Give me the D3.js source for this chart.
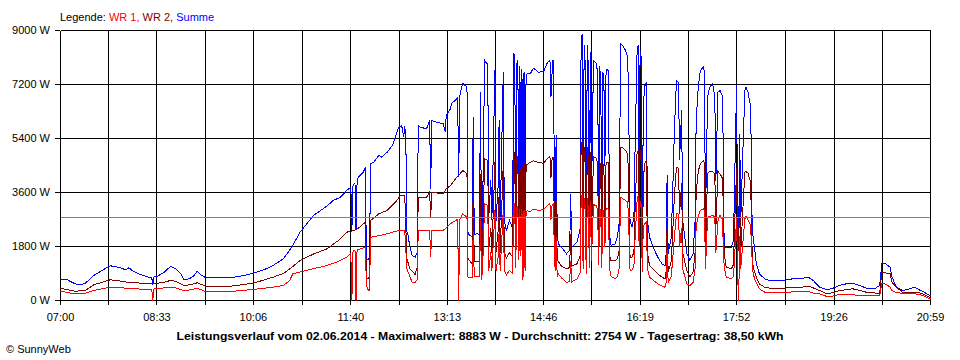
<!DOCTYPE html>
<html><head><meta charset="utf-8">
<script src="https://cdn.jsdelivr.net/npm/d3@7"></script>
<style>
body{margin:0;background:#fff;}
svg{display:block;font-family:"Liberation Sans",Arial,sans-serif;}
</style></head><body>
<svg id="c" width="960" height="360"></svg>
<script>
// ---- data (minutes since 07:00, watts) ----
const xTickLabels = ["07:00","08:33","10:06","11:40","13:13","14:46","16:19","17:52","19:26","20:59"];
const yTickValues = [0,1800,3600,5400,7200,9000];
const averageW = 2754;
const seriesNames = ["WR 1","WR 2","Summe"];
const legendPrefix = "Legende: ";
const titleText = "Leistungsverlauf vom 02.06.2014 - Maximalwert: 8883 W - Durchschnitt: 2754 W - Tagesertrag: 38,50 kWh";
const footerText = "© SunnyWeb";

const summe = [[0,710],[6,700],[14,557],[19,523],[24,577],[32,833],[40,1000],[48,1157],[56,1110],[63,1023],[66,1090],[69,1000],[77,867],[85,777],[88,760],[89,520],[90,780],[93,800],[100,943],[106,1133],[111,1067],[116,890],[119,690],[124,723],[128,800],[132,977],[134,890],[140,757],[164,757],[167,777],[177,833],[186,910],[196,1023],[205,1167],[215,1390],[223,1777],[231,2277],[244,2833],[257,3150],[263,3333],[270,3443],[276,3667],[280,3777],[281,2330],[282,3800],[283,3890],[284,3900],[285,2350],[286,3950],[287,4110],[292,4277],[294,4443],[295,1330],[297,1390],[298,1330],[299,4557],[302,4610],[307,4833],[310,4777],[315,4943],[320,5167],[323,5443],[326,5777],[329,5833],[331,5450],[332,5800],[333,5500],[334,2300],[335,2200],[337,1777],[339,1500],[342,1443],[344,1600],[345,5833],[347,5777],[353,5723],[356,6000],[357,3723],[358,6000],[363,5943],[369,5890],[371,5610],[372,6167],[376,6390],[377,6557],[382,6723],[383,6750],[384,4110],[385,6800],[386,7000],[388,7243],[392,7110],[393,2223],[397,2110],[398,6110],[399,2200],[402,2233],[404,2200],[405,6943],[406,2000],[407,2777],[409,8000],[411,7900],[412,7890],[413,2777],[415,4000],[416,2700],[419,7690],[420,2667],[422,3777],[423,6000],[424,2667],[427,7610],[428,2667],[430,2333],[433,2667],[436,2400],[437,8223],[438,8170],[439,2900],[440,7900],[441,8000],[442,3500],[443,7800],[444,4000],[445,7700],[446,2400],[447,7600],[448,2600],[449,7500],[450,7560],[453,7557],[456,7743],[461,7610],[466,7643],[469,7890],[472,8023],[473,6800],[474,7557],[475,8023],[477,2667],[478,5500],[479,2300],[480,1890],[483,1777],[488,1557],[491,1667],[492,3557],[493,1777],[498,1943],[501,2333],[502,8223],[503,8883],[504,2700],[505,8500],[506,7900],[507,2300],[508,8500],[509,7800],[510,2800],[511,8277],[512,3333],[514,8000],[517,7890],[518,7500],[519,3000],[520,7800],[521,7300],[522,2800],[523,7600],[524,7400],[525,4500],[526,7500],[527,7700],[528,7667],[530,1890],[531,1833],[535,1890],[537,2110],[539,2667],[540,8557],[542,8500],[545,8333],[547,8110],[548,6443],[549,2777],[550,2557],[551,2443],[553,2777],[554,4890],[556,8223],[557,8500],[558,4500],[559,8300],[560,8110],[561,2443],[562,6000],[563,7110],[565,7277],[566,2667],[568,2110],[573,1667],[576,1443],[580,1223],[583,1167],[584,1557],[585,4167],[586,1557],[589,2110],[591,4333],[592,5667],[594,7333],[596,7277],[597,4667],[599,6333],[600,2667],[604,1557],[607,1333],[610,1557],[612,2667],[613,6000],[615,7110],[617,7667],[620,7777],[621,7610],[622,2700],[624,6777],[626,7110],[629,7223],[631,6777],[632,4000],[634,6943],[636,7000],[638,6833],[639,5443],[640,1777],[642,1777],[647,1777],[649,2000],[650,3777],[652,7167],[653,2333],[654,1900],[655,5557],[656,2667],[658,4890],[660,7000],[661,7110],[663,6943],[665,6557],[666,5443],[667,2443],[668,2110],[670,1557],[671,1223],[674,890],[679,723],[684,667],[697,667],[706,723],[713,723],[721,777],[726,667],[732,443],[739,357],[745,410],[751,500],[758,557],[764,577],[771,500],[777,410],[785,390],[790,500],[792,1223],[795,1243],[800,1110],[802,777],[806,443],[812,333],[819,390],[824,443],[828,357],[833,277],[838,167],[839,150]];

const wr2 = [[0,410],[14,310],[24,333],[32,523],[48,690],[56,660],[64,610],[69,600],[77,580],[85,557],[90,557],[100,610],[106,667],[111,640],[119,500],[124,520],[132,590],[134,560],[140,477],[164,477],[186,577],[205,777],[215,900],[223,1100],[231,1333],[244,1550],[257,1723],[268,2000],[276,2277],[283,2333],[287,2400],[294,2610],[295,730],[297,750],[298,730],[299,2667],[307,2890],[315,3000],[323,3277],[328,3500],[332,3500],[334,1390],[337,1057],[342,867],[344,1110],[345,3443],[353,3443],[356,3610],[357,2777],[358,3610],[369,3557],[372,3723],[376,3833],[381,4057],[388,4333],[392,4223],[393,1390],[397,1223],[398,3700],[399,1300],[402,1300],[404,1300],[405,4200],[406,1200],[407,1700],[409,4723],[411,4700],[412,4650],[413,1700],[415,2400],[416,1600],[419,4600],[420,1600],[422,2300],[423,3600],[424,1600],[427,4550],[428,1600],[430,1400],[433,1600],[436,1450],[437,4950],[438,4900],[439,1750],[440,4750],[441,4800],[442,2100],[443,4700],[444,2400],[445,4600],[446,1450],[447,4550],[448,1550],[449,4500],[450,4533],[453,4610],[456,4660],[461,4600],[466,4577],[469,4720],[472,4800],[473,4100],[474,4700],[475,4780],[477,1600],[478,3300],[479,1400],[480,1300],[483,1150],[488,1057],[491,1100],[492,2200],[493,1150],[498,1223],[501,1450],[502,5000],[503,5300],[504,1650],[505,5100],[506,4750],[507,1400],[508,5100],[509,4700],[510,1700],[511,4950],[512,2000],[514,4800],[517,4733],[518,4500],[519,1800],[520,4680],[521,4400],[522,1700],[523,4560],[524,4450],[525,2700],[526,4500],[527,4620],[528,4600],[530,1333],[531,1333],[535,1333],[537,1400],[539,1700],[540,5110],[542,5100],[545,5000],[547,4890],[548,3890],[549,1550],[550,1443],[551,1443],[553,1600],[554,2900],[556,4900],[557,5000],[558,2700],[559,5000],[560,4900],[561,1500],[562,3600],[563,4557],[565,4667],[566,1600],[568,1167],[573,1000],[576,890],[580,780],[583,723],[584,950],[585,2500],[586,950],[589,1300],[591,2700],[592,3500],[594,4443],[596,4400],[597,2900],[599,3900],[600,1600],[604,1000],[607,777],[610,950],[612,1600],[613,3600],[615,4300],[617,4557],[620,4667],[621,4600],[622,1650],[624,4223],[626,4300],[629,4300],[631,4200],[632,2400],[634,4300],[636,4223],[638,4100],[639,3400],[640,1557],[642,1110],[647,1057],[649,1200],[650,2400],[652,4400],[653,1500],[654,1900],[655,3400],[656,1600],[658,3000],[660,4277],[661,4300],[663,4250],[665,4000],[666,3300],[667,1600],[668,1110],[670,900],[671,777],[674,555],[679,443],[684,410],[697,410],[706,430],[713,430],[721,477],[726,420],[732,333],[739,223],[745,260],[751,333],[758,360],[764,390],[771,330],[777,277],[785,250],[790,223],[792,923],[795,923],[800,890],[802,600],[806,443],[812,277],[819,277],[824,277],[828,260],[833,200],[838,110],[839,100]];

const wr1 = [[0,310],[14,220],[24,240],[32,333],[48,443],[56,430],[64,410],[69,400],[77,380],[85,370],[88,370],[89,0],[90,380],[93,400],[100,420],[106,443],[111,420],[119,333],[124,350],[132,410],[134,380],[140,300],[164,300],[186,370],[205,443],[215,500],[221,667],[224,890],[231,950],[244,1060],[257,1167],[268,1300],[276,1450],[280,1557],[281,0],[282,1600],[283,1667],[284,1680],[285,0],[286,1700],[287,1700],[294,1777],[295,500],[297,330],[298,333],[299,2110],[307,2160],[315,2223],[326,2333],[332,2333],[334,1057],[337,800],[339,610],[342,610],[344,700],[345,2333],[356,2333],[357,1443],[358,2333],[369,2333],[376,2557],[381,2667],[383,2700],[384,0],[385,2700],[388,2890],[392,2777],[393,777],[397,777],[398,2300],[399,800],[402,800],[404,800],[405,2700],[406,700],[407,1000],[409,3223],[411,3200],[412,3150],[413,1000],[415,1600],[416,1000],[419,3000],[420,1000],[422,1450],[423,2300],[424,1000],[427,3000],[428,1000],[430,850],[433,1000],[436,900],[437,3250],[438,3200],[439,1100],[440,3100],[441,3150],[442,1350],[443,3050],[444,1500],[445,3050],[446,700],[447,3000],[448,1000],[449,2950],[450,3000],[453,2950],[456,3050],[461,3000],[466,3033],[469,3150],[472,3223],[473,2700],[474,3150],[475,3200],[477,1000],[478,2100],[479,800],[480,890],[483,760],[488,610],[491,620],[492,1300],[493,620],[498,720],[501,900],[502,3200],[503,3550],[504,1050],[505,3400],[506,3150],[507,900],[508,3400],[509,3100],[510,1100],[511,3300],[512,1333],[514,3200],[517,3150],[518,3000],[519,1200],[520,3120],[521,2900],[522,1100],[523,3040],[524,2950],[525,1800],[526,3000],[527,3080],[528,3070],[530,890],[531,800],[535,723],[537,800],[539,1100],[540,3443],[542,3400],[545,3330],[547,3280],[548,2600],[549,1050],[550,1000],[551,1000],[553,1150],[554,2000],[556,3300],[557,3500],[558,1800],[559,3300],[560,3210],[561,950],[562,2400],[563,2550],[565,2610],[566,1060],[568,777],[573,640],[576,557],[580,480],[583,443],[584,600],[585,1667],[586,600],[589,800],[591,1630],[592,2100],[594,2890],[596,2877],[597,1770],[599,2430],[600,1067],[604,557],[607,500],[610,600],[612,1067],[613,2500],[615,2800],[617,3000],[620,3057],[621,3010],[622,1050],[624,2777],[626,2800],[629,2833],[631,2780],[632,1600],[634,2643],[636,2833],[638,2733],[639,2043],[640,1110],[642,777],[647,720],[649,800],[650,1377],[652,2767],[653,833],[654,0],[655,2157],[656,1067],[658,1890],[660,2723],[661,2810],[663,2693],[665,2557],[666,2143],[667,1333],[668,890],[670,657],[671,610],[674,390],[679,280],[684,257],[697,257],[706,290],[713,290],[721,310],[726,247],[732,223],[739,133],[745,150],[751,197],[758,200],[764,190],[771,170],[777,167],[785,167],[790,167],[792,557],[795,557],[800,450],[802,330],[806,260],[812,243],[819,223],[824,223],[828,200],[833,150],[838,57],[839,50]];

// ---- drawing ----
const svg = d3.select("#c");
const toMin = s => { const [h,m] = s.split(":").map(Number); return h*60+m-420; };
const labelMins = xTickLabels.map(toMin);
const allTicks = [];
labelMins.forEach((m,i) => { allTicks.push(m); if (i < labelMins.length-1) allTicks.push((m+labelMins[i+1])/2); });

const x = d3.scaleLinear().domain([0, d3.max(labelMins)]).range([60, 930]);
const y = d3.scaleLinear().domain([0, d3.max(yTickValues)]).range([300, 30]);

const grid = svg.append("g").attr("shape-rendering","crispEdges").attr("stroke","#000").attr("stroke-width",1);
yTickValues.forEach(v => grid.append("line").attr("x1",x.range()[0]+0.5).attr("x2",x.range()[1]+0.5).attr("y1",y(v)+0.5).attr("y2",y(v)+0.5));
allTicks.forEach(t => { const px = Math.round(x(t))+0.5; grid.append("line").attr("x1",px).attr("x2",px).attr("y1",y.range()[1]+0.5).attr("y2",y.range()[0]+0.5); });

const ay = svg.append("g").attr("transform","translate(60,0)")
  .call(d3.axisLeft(y).tickValues(yTickValues).tickFormat(d => d + " W").tickSize(5).tickPadding(5));
const ax = svg.append("g").attr("transform","translate(0,300)")
  .call(d3.axisBottom(x).tickValues(allTicks).tickFormat((d,i) => i%2===0 ? xTickLabels[i/2] : "").tickSize(5).tickPadding(8));
[ay, ax].forEach(a => {
  a.select(".domain").remove();
  a.selectAll("line").attr("stroke","#000").attr("shape-rendering","crispEdges");
  a.selectAll("text").attr("fill","#000").style("font-size","11px").style("font-family",'"Liberation Sans",Arial,sans-serif');
});

const line = d3.line().x(d => x(d[0])).y(d => y(d[1]));
const colors = {"Summe":"#0000ff","WR 2":"#800000","WR 1":"#ff0000"};
const dataG = svg.append("g").attr("transform","translate(0.5,0.5)");
[["Summe",summe],["WR 2",wr2],["WR 1",wr1]].forEach(([n,d]) => {
  dataG.append("path").datum(d).attr("d",line).attr("fill","none")
    .attr("stroke",colors[n]).attr("stroke-width",1).attr("shape-rendering","crispEdges");
});

svg.append("line").attr("x1",x.range()[0]+1).attr("x2",x.range()[1]).attr("y1",Math.round(y(averageW))+0.5).attr("y2",Math.round(y(averageW))+0.5)
  .attr("stroke","#808080").attr("stroke-width",1).attr("shape-rendering","crispEdges");

// legend
const leg = svg.append("text").attr("x",60).attr("y",21).style("font-size","11px");
leg.append("tspan").text(legendPrefix).attr("fill","#000");
seriesNames.forEach((n,i) => leg.append("tspan").text(n + (i<seriesNames.length-1 ? ", " : "")).attr("fill",colors[n]));

// title + footer
svg.append("text").attr("x",480).attr("y",340).attr("text-anchor","middle")
  .style("font-size","11.5px").style("font-weight","bold").attr("textLength",607).attr("lengthAdjust","spacingAndGlyphs").text(titleText);
svg.append("text").attr("x",6).attr("y",353).style("font-size","11px").text(footerText);
</script>
</body></html>
